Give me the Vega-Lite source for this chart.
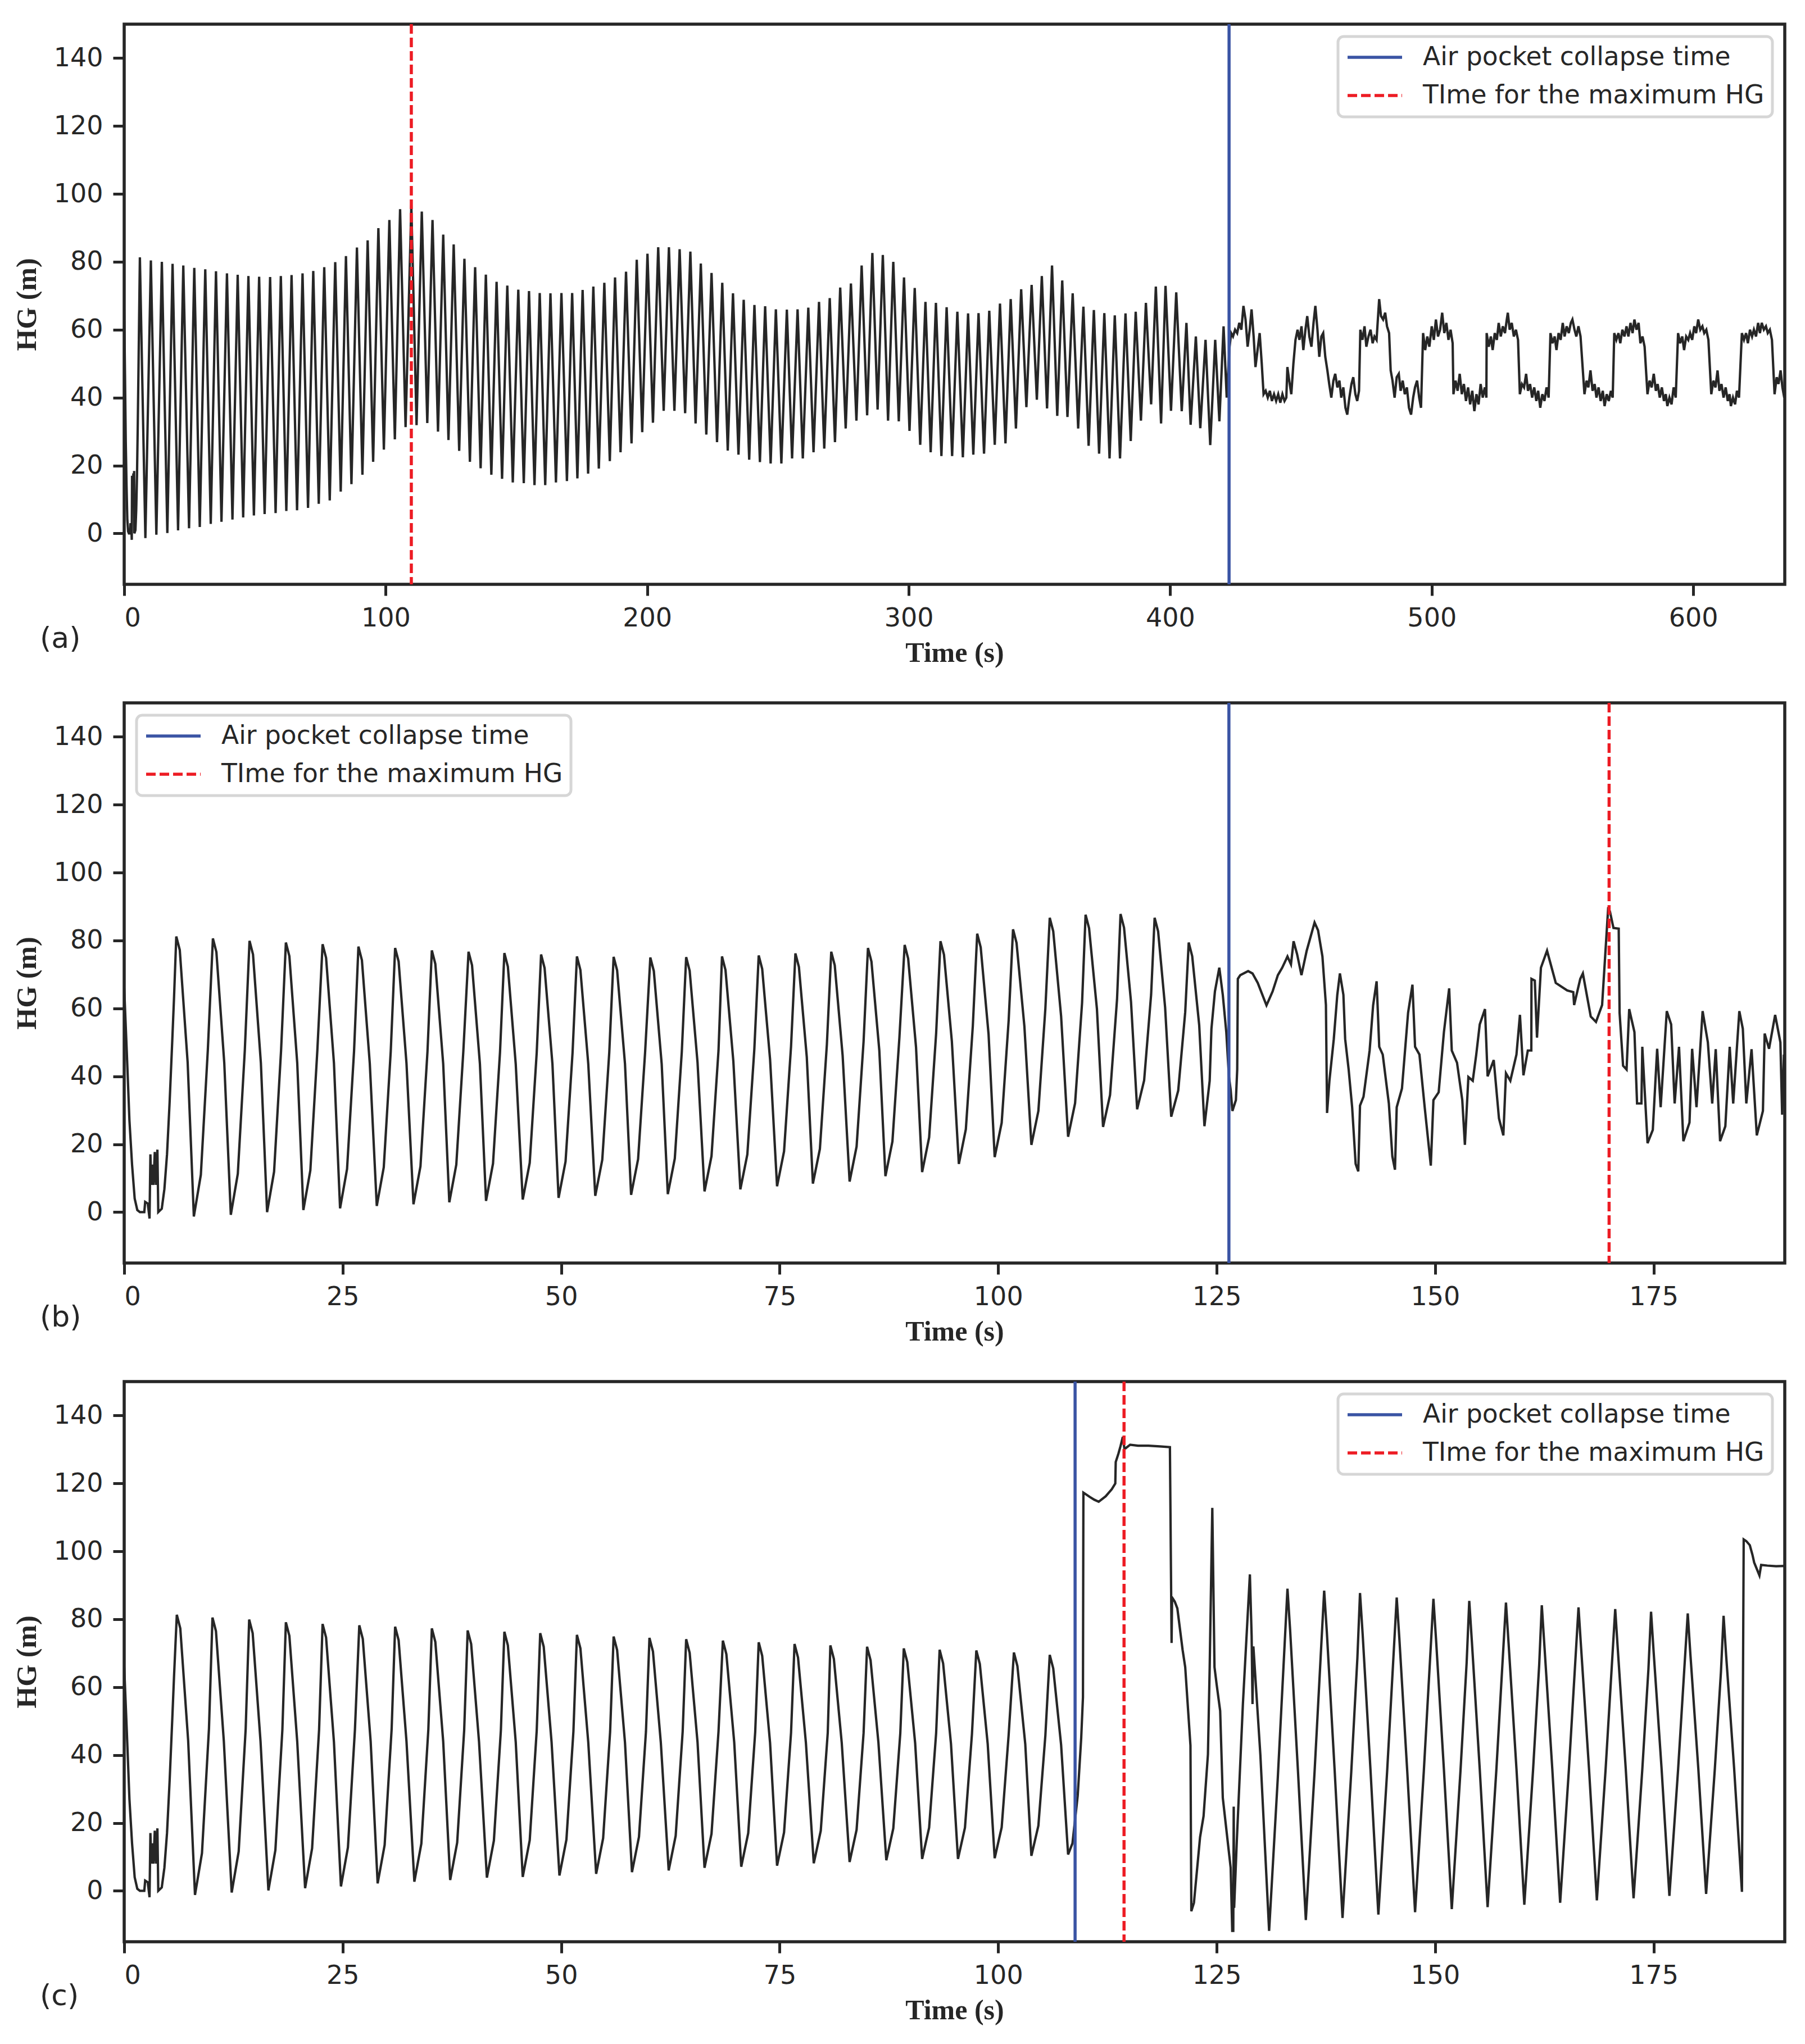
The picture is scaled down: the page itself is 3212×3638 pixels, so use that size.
{
"$schema":"https://vega.github.io/schema/vega-lite/v6.json",
"background":"white",
"padding":{"left":20,"top":37,"right":30,"bottom":20},
"spacing":211,
"bounds":"flush",
"resolve":{"scale":{"color":"independent","strokeDash":"independent","x":"independent","y":"independent"},"legend":{"color":"independent","strokeDash":"independent"}},
"config":{
"view":{"stroke":"#262626","strokeWidth":5.5},
"axis":{"grid":false,"domain":false,"ticks":true,"tickColor":"#262626","tickWidth":5,"tickSize":20,"labelFont":"DejaVu Sans","labelFontSize":46,"labelColor":"#262626","labelPadding":18,"titleFont":"Liberation Serif","titleFontWeight":"bold","titleFontSize":50,"titleColor":"#262626"},
"axisX":{"titlePadding":14},
"axisY":{"titlePadding":22},
"legend":{"labelFont":"DejaVu Sans","labelFontSize":45.5,"labelColor":"#262626","symbolType":"stroke","symbolSize":9409,"symbolStrokeWidth":5.5,"clipHeight":46,"rowPadding":21,"labelOffset":34,"padding":14,"strokeColor":"#d6d6d6","fillColor":"rgba(255,255,255,0.85)","cornerRadius":10,"strokeWidth":5,"labelLimit":1000},
"title":{"font":"DejaVu Sans","fontSize":52,"fontWeight":"normal","color":"#262626"}
},
"datasets":{
"ra":[{"n":"Air pocket collapse time","t":422.5},{"n":"TIme for the maximum HG","t":109.8}],
"rb":[{"n":"Air pocket collapse time","t":126.4},{"n":"TIme for the maximum HG","t":169.9}],
"rc":[{"n":"Air pocket collapse time","t":108.8},{"n":"TIme for the maximum HG","t":114.4}],
"a":[
{"t":0,"h":66},{"t":0.3,"h":47},{"t":0.6,"h":27},{"t":0.9,"h":14},{"t":1.2,"h":4},{"t":1.5,"h":0.6},{"t":1.8,"h":0},{"t":2.3,"h":0},{"t":2.4,"h":3},{"t":2.7,"h":2.5},{"t":2.9,"h":-1.9},{"t":3.0,"h":17},{"t":3.1,"h":8},{"t":3.2,"h":14},{"t":3.35,"h":8},{"t":3.5,"h":17.7},{"t":3.65,"h":8},{"t":3.8,"h":18.4},{"t":3.9,"h":0},{"t":4.3,"h":1},{"t":4.6,"h":6.8},{"t":4.9,"h":17},{"t":5.2,"h":32.5},{"t":5.5,"h":50.5},{"t":5.7,"h":63},{"t":6.0,"h":81.3},
{"t":8.1,"h":-1.4},{"t":10.2,"h":80.4},{"t":12.3,"h":-0.4},{"t":14.4,"h":80.0},{"t":16.5,"h":0.1},{"t":18.5,"h":79.4},{"t":20.6,"h":0.9},{"t":22.6,"h":78.9},{"t":24.8,"h":1.5},{"t":26.8,"h":78.2},{"t":28.9,"h":1.9},{"t":31.0,"h":77.8},{"t":33.1,"h":2.8},{"t":35.1,"h":77.2},{"t":37.2,"h":3.4},{"t":39.3,"h":76.6},{"t":41.4,"h":4.1},{"t":43.4,"h":76.2},{"t":45.5,"h":4.7},{"t":47.5,"h":75.8},{"t":49.6,"h":5.3},{"t":51.6,"h":75.6},{"t":53.7,"h":5.7},{"t":55.8,"h":75.5},{"t":57.9,"h":6.0},{"t":59.9,"h":75.8},{"t":62.0,"h":6.6},{"t":64.0,"h":76.1},{"t":66.1,"h":6.8},{"t":68.2,"h":76.6},{"t":70.3,"h":7.5},{"t":72.3,"h":77.3},{"t":74.4,"h":8.7},{"t":76.5,"h":78.4},{"t":78.6,"h":9.7},{"t":80.7,"h":79.9},{"t":82.8,"h":12.3},{"t":84.8,"h":81.7},{"t":86.9,"h":14.5},{"t":89.0,"h":84.2},{"t":91.1,"h":17.3},{"t":93.1,"h":86.3},{"t":95.2,"h":21.1},{"t":97.2,"h":89.9},{"t":99.3,"h":24.7},{"t":101.4,"h":92.3},{"t":103.5,"h":27.7},{"t":105.5,"h":95.5},{"t":107.6,"h":31.3},{"t":109.8,"h":96.6},{"t":111.8,"h":31.9},{"t":113.8,"h":94.8},{"t":115.9,"h":32.5},{"t":117.9,"h":92.3},{"t":120.0,"h":30.0},{"t":122.0,"h":88.0},{"t":124.0,"h":27.5},{"t":126.0,"h":85.1},{"t":128.1,"h":24.3},{"t":130.1,"h":80.9},{"t":132.2,"h":21.1},{"t":134.2,"h":78.4},{"t":136.3,"h":19.2},{"t":138.3,"h":76.2},{"t":140.4,"h":17.3},{"t":142.4,"h":74.1},{"t":144.5,"h":16.1},{"t":146.5,"h":73.0},{"t":148.6,"h":15.0},{"t":150.7,"h":71.8},{"t":152.8,"h":14.8},{"t":154.8,"h":71.4},{"t":156.9,"h":14.2},{"t":158.9,"h":70.8},{"t":161.0,"h":14.2},{"t":163.0,"h":70.7},{"t":165.1,"h":15.0},{"t":167.2,"h":70.8},{"t":169.3,"h":15.4},{"t":171.3,"h":70.8},{"t":173.3,"h":16.2},{"t":175.3,"h":71.7},{"t":177.4,"h":17.6},{"t":179.4,"h":72.7},{"t":181.5,"h":19.1},{"t":183.6,"h":73.8},{"t":185.7,"h":21.3},{"t":187.7,"h":75.4},{"t":189.8,"h":23.9},{"t":191.9,"h":77.1},{"t":194.0,"h":26.5},{"t":196.0,"h":80.6},{"t":198.1,"h":29.8},{"t":200.1,"h":82.4},{"t":202.2,"h":32.6},{"t":204.2,"h":84.3},{"t":206.3,"h":36.1},{"t":208.3,"h":84.3},{"t":210.4,"h":36.1},{"t":212.4,"h":83.7},{"t":214.5,"h":35.4},{"t":216.5,"h":83.0},{"t":218.5,"h":32.4},{"t":220.5,"h":79.5},{"t":222.6,"h":29.1},{"t":224.6,"h":76.7},{"t":226.7,"h":26.9},{"t":228.7,"h":73.8},{"t":230.8,"h":24.4},{"t":232.8,"h":70.7},{"t":234.9,"h":23.2},{"t":236.9,"h":68.8},{"t":239.0,"h":21.7},{"t":241.0,"h":67.3},{"t":243.1,"h":21.0},{"t":245.1,"h":66.9},{"t":247.2,"h":20.6},{"t":249.2,"h":66.0},{"t":251.3,"h":20.6},{"t":253.4,"h":65.9},{"t":255.4,"h":22.1},{"t":257.5,"h":66.0},{"t":259.5,"h":22.1},{"t":261.6,"h":66.5},{"t":263.6,"h":23.9},{"t":265.7,"h":68.2},{"t":267.7,"h":25.0},{"t":269.8,"h":69.3},{"t":271.8,"h":26.9},{"t":273.8,"h":72.4},{"t":275.9,"h":30.9},{"t":277.9,"h":73.6},{"t":280.0,"h":33.2},{"t":282.0,"h":78.9},{"t":284.1,"h":34.8},{"t":286.1,"h":82.6},{"t":288.1,"h":36.5},{"t":290.1,"h":82.0},{"t":292.1,"h":33.2},{"t":294.1,"h":80.0},{"t":296.2,"h":33.0},{"t":298.2,"h":75.4},{"t":300.3,"h":30.2},{"t":302.3,"h":72.3},{"t":304.4,"h":26.1},{"t":306.4,"h":68.2},{"t":308.4,"h":23.9},{"t":310.4,"h":67.9},{"t":312.5,"h":22.8},{"t":314.5,"h":66.6},{"t":316.6,"h":22.8},{"t":318.6,"h":65.3},{"t":320.7,"h":22.4},{"t":322.7,"h":64.8},{"t":324.7,"h":23.2},{"t":326.7,"h":64.9},{"t":328.8,"h":23.5},{"t":330.8,"h":65.6},{"t":332.9,"h":26.1},{"t":334.9,"h":67.7},{"t":337.0,"h":26.5},{"t":339.0,"h":69.0},{"t":341.0,"h":30.9},{"t":343.0,"h":71.9},{"t":345.0,"h":37.2},{"t":347.0,"h":73.2},{"t":349.0,"h":39.4},{"t":350.9,"h":75.8},{"t":352.9,"h":36.8},{"t":354.8,"h":78.9},{"t":356.8,"h":34.6},{"t":358.7,"h":74.5},{"t":360.7,"h":34.3},{"t":362.7,"h":70.7},{"t":364.8,"h":30.9},{"t":366.8,"h":66.8},{"t":368.8,"h":25.8},{"t":370.8,"h":65.8},{"t":372.8,"h":23.5},{"t":374.8,"h":64.9},{"t":376.8,"h":22.1},{"t":378.8,"h":64.2},{"t":380.8,"h":22.1},{"t":382.9,"h":64.8},{"t":384.9,"h":27.2},{"t":386.8,"h":65.3},{"t":388.8,"h":33.2},{"t":390.7,"h":67.9},{"t":392.7,"h":38.0},{"t":394.5,"h":72.7},{"t":396.5,"h":32.4},{"t":398.2,"h":72.9},{"t":400.3,"h":36.1},{"t":402.3,"h":71},{"t":404.4,"h":36},{"t":406.2,"h":62},{"t":407.8,"h":32},{"t":409.8,"h":58},{"t":411.5,"h":31},{"t":413.5,"h":57},{"t":415.3,"h":26},{"t":417.2,"h":57},{"t":418.8,"h":33},{"t":420.4,"h":61},{"t":421.6,"h":40},
{"t":422.7,"h":55},{"t":423.3,"h":59},{"t":424.0,"h":58},{"t":424.8,"h":60},{"t":425.6,"h":59},{"t":426.4,"h":62},{"t":427.2,"h":60},{"t":428.0,"h":67},{"t":428.8,"h":63},{"t":429.6,"h":55},{"t":430.4,"h":60},{"t":431.1,"h":66},{"t":431.9,"h":58},{"t":432.6,"h":49},{"t":433.4,"h":54},{"t":434.2,"h":59},{"t":435.0,"h":50},{"t":435.7,"h":41},
{"t":436.5,"h":42},{"t":437.3,"h":40},{"t":438.1,"h":42},{"t":438.9,"h":39},{"t":439.7,"h":41},{"t":440.5,"h":39},{"t":441.3,"h":41},{"t":442.1,"h":38.5},{"t":442.9,"h":41},{"t":443.7,"h":39},{"t":444.4,"h":40},
{"t":444.8,"h":49},{"t":445.5,"h":45},{"t":446.3,"h":41},{"t":447.1,"h":50},{"t":447.9,"h":57},{"t":448.7,"h":60},{"t":449.4,"h":57},{"t":450.2,"h":61},{"t":450.9,"h":54},{"t":451.7,"h":60},{"t":452.4,"h":64},{"t":453.2,"h":58},{"t":454.0,"h":55},{"t":454.8,"h":62},{"t":455.5,"h":67},{"t":456.3,"h":60},{"t":457.0,"h":52},{"t":457.8,"h":58},{"t":458.5,"h":59},{"t":459.3,"h":52},{"t":460.1,"h":48},
{"t":460.8,"h":44},{"t":461.6,"h":40},{"t":462.4,"h":45},{"t":463.1,"h":47},{"t":463.9,"h":43},{"t":464.7,"h":45},{"t":465.4,"h":40},{"t":466.2,"h":43},{"t":467.0,"h":37},{"t":467.7,"h":35},{"t":468.5,"h":40},{"t":469.3,"h":44},{"t":470.0,"h":46},{"t":470.8,"h":41},{"t":471.5,"h":39},{"t":472.2,"h":42},
{"t":472.7,"h":60},{"t":473.5,"h":57},{"t":474.3,"h":61},{"t":475.0,"h":55},{"t":475.8,"h":58},{"t":476.6,"h":60},{"t":477.4,"h":56},{"t":478.1,"h":58},{"t":478.9,"h":57},{"t":479.9,"h":69},{"t":480.6,"h":64},{"t":481.4,"h":63},{"t":482.2,"h":65},{"t":482.9,"h":61},{"t":483.7,"h":59},
{"t":484.3,"h":48},{"t":485.0,"h":45},{"t":485.8,"h":40},{"t":486.6,"h":46},{"t":487.4,"h":47},{"t":488.1,"h":42},{"t":488.9,"h":45},{"t":489.7,"h":41},{"t":490.5,"h":43},{"t":491.3,"h":37},{"t":492.1,"h":35},{"t":492.9,"h":40},{"t":493.6,"h":43},{"t":494.4,"h":45},{"t":495.2,"h":40},{"t":495.9,"h":37},
{"t":496.7,"h":59},{"t":497.5,"h":54},{"t":498.3,"h":58},{"t":499.1,"h":55},{"t":500.0,"h":61},{"t":500.8,"h":57},{"t":501.6,"h":63},{"t":502.4,"h":58},{"t":503.2,"h":60},{"t":504.0,"h":65},{"t":504.8,"h":59},{"t":505.6,"h":62},{"t":506.4,"h":57},{"t":507.2,"h":60},{"t":508.0,"h":56},
{"t":508.3,"h":41},{"t":509.1,"h":45},{"t":509.9,"h":42},{"t":510.7,"h":47},{"t":511.5,"h":41},{"t":512.3,"h":44},{"t":513.1,"h":39},{"t":513.9,"h":43},{"t":514.7,"h":38},{"t":515.5,"h":42},{"t":516.3,"h":36},{"t":517.1,"h":41},{"t":517.9,"h":38},{"t":518.7,"h":44},{"t":519.5,"h":40},{"t":520.3,"h":43},{"t":520.9,"h":40},
{"t":521.0,"h":59},{"t":521.8,"h":55},{"t":522.6,"h":58},{"t":523.3,"h":54},{"t":524.1,"h":59},{"t":524.9,"h":57},{"t":525.6,"h":62},{"t":526.4,"h":58},{"t":527.2,"h":61},{"t":528.0,"h":59},{"t":528.7,"h":63},{"t":529.1,"h":65},{"t":529.8,"h":60},{"t":530.6,"h":62},{"t":531.4,"h":58},{"t":532.2,"h":60},{"t":533.0,"h":57},
{"t":533.7,"h":41},{"t":534.5,"h":44},{"t":535.3,"h":43},{"t":536.1,"h":47},{"t":536.8,"h":42},{"t":537.6,"h":44},{"t":538.4,"h":40},{"t":539.2,"h":43},{"t":540.0,"h":39},{"t":540.7,"h":42},{"t":541.5,"h":37},{"t":542.3,"h":41},{"t":543.1,"h":39},{"t":543.9,"h":43},{"t":544.7,"h":40},
{"t":545.4,"h":59},{"t":546.2,"h":56},{"t":547.0,"h":58},{"t":547.7,"h":54},{"t":548.5,"h":59},{"t":549.3,"h":57},{"t":550.1,"h":62},{"t":550.8,"h":58},{"t":551.6,"h":61},{"t":552.4,"h":59},{"t":553.2,"h":62},{"t":553.8,"h":63},{"t":554.6,"h":60},{"t":555.3,"h":58},{"t":556.1,"h":61},{"t":556.9,"h":58},
{"t":558.4,"h":41},{"t":559.2,"h":45},{"t":559.9,"h":43},{"t":560.7,"h":48},{"t":561.5,"h":42},{"t":562.3,"h":44},{"t":563.0,"h":40},{"t":563.8,"h":43},{"t":564.6,"h":39},{"t":565.4,"h":42},{"t":566.1,"h":37.5},{"t":566.9,"h":41},{"t":567.7,"h":39},{"t":568.5,"h":42},{"t":569.2,"h":40},
{"t":569.8,"h":59},{"t":570.6,"h":57},{"t":571.4,"h":59},{"t":572.1,"h":56},{"t":572.9,"h":60},{"t":573.7,"h":58},{"t":574.5,"h":61},{"t":575.2,"h":58},{"t":576.0,"h":62},{"t":576.8,"h":59},{"t":577.5,"h":63},{"t":578.3,"h":60},{"t":579.1,"h":62},{"t":579.8,"h":56},{"t":580.6,"h":58},{"t":581.4,"h":55},
{"t":582.5,"h":41},{"t":583.3,"h":45},{"t":584.1,"h":43},{"t":584.9,"h":47},{"t":585.7,"h":42},{"t":586.4,"h":44},{"t":587.2,"h":40},{"t":588.0,"h":43},{"t":588.8,"h":39},{"t":589.5,"h":41},{"t":590.1,"h":37.5},{"t":590.9,"h":40},{"t":591.7,"h":38},{"t":592.5,"h":43},{"t":593.3,"h":40},
{"t":594.2,"h":59},{"t":595.0,"h":56},{"t":595.8,"h":58},{"t":596.5,"h":54},{"t":597.3,"h":58},{"t":598.1,"h":57},{"t":598.8,"h":59},{"t":599.6,"h":57},{"t":600.4,"h":61},{"t":601.1,"h":59},{"t":601.9,"h":63},{"t":602.7,"h":60},{"t":603.5,"h":61},{"t":604.2,"h":59},{"t":605.0,"h":60},{"t":605.8,"h":57},
{"t":606.9,"h":41},{"t":607.7,"h":45},{"t":608.5,"h":43},{"t":609.3,"h":48},{"t":610.0,"h":42},{"t":610.8,"h":44},{"t":611.6,"h":40},{"t":612.4,"h":43},{"t":613.2,"h":39},{"t":613.9,"h":41},{"t":614.4,"h":37.5},{"t":615.2,"h":40},{"t":616.0,"h":38},{"t":616.7,"h":42},{"t":617.5,"h":40},
{"t":618.6,"h":59},{"t":619.4,"h":57},{"t":620.2,"h":59},{"t":620.9,"h":56},{"t":621.7,"h":60},{"t":622.5,"h":58},{"t":623.2,"h":60},{"t":624.0,"h":58},{"t":624.8,"h":62},{"t":625.5,"h":59},{"t":626.2,"h":62},{"t":627.0,"h":60},{"t":627.8,"h":61},{"t":628.5,"h":59},{"t":629.3,"h":60},{"t":630.1,"h":57},
{"t":631.1,"h":41},{"t":631.9,"h":46},{"t":632.6,"h":44},{"t":633.4,"h":48},{"t":634.1,"h":43},{"t":634.8,"h":40},{"t":635.2,"h":41}
],
"b":[
{"t":0,"h":66},{"t":0.3,"h":47},{"t":0.6,"h":27},{"t":0.9,"h":14},{"t":1.2,"h":4},{"t":1.5,"h":0.6},{"t":1.8,"h":0},{"t":2.3,"h":0},{"t":2.4,"h":3},{"t":2.7,"h":2.5},{"t":2.9,"h":-1.9},{"t":3.0,"h":17},{"t":3.1,"h":8},{"t":3.2,"h":14},{"t":3.35,"h":8},{"t":3.5,"h":17.7},{"t":3.65,"h":8},{"t":3.8,"h":18.4},{"t":3.9,"h":0},{"t":4.3,"h":1},{"t":4.6,"h":6.8},{"t":4.9,"h":17},{"t":5.2,"h":32.5},{"t":5.5,"h":50.5},{"t":5.7,"h":63},
{"t":5.96,"h":81.2},{"t":6.36,"h":77.2},{"t":7.26,"h":44.1},{"t":7.97,"h":-1.3},{"t":8.77,"h":11.0},{"t":9.57,"h":47.8},
{"t":10.15,"h":80.6},{"t":10.55,"h":76.6},{"t":11.45,"h":44.0},{"t":12.2,"h":-0.8},{"t":13.0,"h":11.3},{"t":13.8,"h":47.6},
{"t":14.34,"h":79.9},{"t":14.74,"h":75.9},{"t":15.64,"h":43.9},{"t":16.35,"h":0},{"t":17.15,"h":11.9},{"t":17.95,"h":47.6},
{"t":18.5,"h":79.4},{"t":18.9,"h":75.4},{"t":19.8,"h":43.9},{"t":20.5,"h":0.6},{"t":21.3,"h":12.3},{"t":22.1,"h":47.6},
{"t":22.7,"h":78.9},{"t":23.1,"h":74.9},{"t":24.0,"h":43.9},{"t":24.7,"h":1.1},{"t":25.5,"h":12.7},{"t":26.3,"h":47.4},
{"t":26.8,"h":78.2},{"t":27.2,"h":74.2},{"t":28.1,"h":43.8},{"t":28.9,"h":1.8},{"t":29.7,"h":13.2},{"t":30.5,"h":47.4},
{"t":31.0,"h":77.8},{"t":31.4,"h":73.8},{"t":32.3,"h":43.8},{"t":33.1,"h":2.3},{"t":33.9,"h":13.5},{"t":34.7,"h":47.2},
{"t":35.2,"h":77.1},{"t":35.6,"h":73.1},{"t":36.5,"h":43.7},{"t":37.2,"h":2.9},{"t":38.0,"h":14.0},{"t":38.8,"h":47.2},
{"t":39.4,"h":76.7},{"t":39.8,"h":72.7},{"t":40.7,"h":43.7},{"t":41.4,"h":3.3},{"t":42.2,"h":14.3},{"t":43.0,"h":47.1},
{"t":43.5,"h":76.3},{"t":43.9,"h":72.3},{"t":44.8,"h":43.6},{"t":45.6,"h":3.7},{"t":46.4,"h":14.5},{"t":47.2,"h":47.0},
{"t":47.7,"h":75.9},{"t":48.1,"h":71.9},{"t":49.0,"h":43.6},{"t":49.7,"h":4.2},{"t":50.5,"h":14.9},{"t":51.3,"h":46.9},
{"t":51.8,"h":75.3},{"t":52.2,"h":71.3},{"t":53.1,"h":43.6},{"t":53.9,"h":4.8},{"t":54.7,"h":15.4},{"t":55.5,"h":47.0},
{"t":56.0,"h":75.2},{"t":56.4,"h":71.2},{"t":57.3,"h":43.7},{"t":58.0,"h":5.1},{"t":58.8,"h":15.6},{"t":59.6,"h":47.0},
{"t":60.2,"h":75.0},{"t":60.6,"h":71.0},{"t":61.5,"h":43.6},{"t":62.2,"h":5.3},{"t":63.0,"h":15.8},{"t":63.8,"h":47.2},
{"t":64.3,"h":75.1},{"t":64.7,"h":71.1},{"t":65.6,"h":44.1},{"t":66.4,"h":6.1},{"t":67.2,"h":16.5},{"t":68.0,"h":47.6},
{"t":68.4,"h":75.3},{"t":68.8,"h":71.3},{"t":69.7,"h":44.4},{"t":70.5,"h":6.7},{"t":71.3,"h":17.0},{"t":72.1,"h":48.0},
{"t":72.6,"h":75.6},{"t":73.0,"h":71.6},{"t":73.9,"h":45.0},{"t":74.7,"h":7.6},{"t":75.5,"h":17.9},{"t":76.3,"h":48.8},
{"t":76.8,"h":76.2},{"t":77.2,"h":72.2},{"t":78.1,"h":45.7},{"t":78.8,"h":8.4},{"t":79.6,"h":18.6},{"t":80.4,"h":49.4},
{"t":80.9,"h":76.7},{"t":81.3,"h":72.7},{"t":82.2,"h":46.2},{"t":83.0,"h":9.0},{"t":83.8,"h":19.3},{"t":84.6,"h":50.3},
{"t":85.1,"h":77.8},{"t":85.5,"h":73.8},{"t":86.4,"h":47.6},{"t":87.1,"h":10.6},{"t":87.9,"h":20.8},{"t":88.7,"h":51.5},
{"t":89.3,"h":78.7},{"t":89.7,"h":74.7},{"t":90.6,"h":48.6},{"t":91.3,"h":11.8},{"t":92.1,"h":22.0},{"t":92.9,"h":52.6},
{"t":93.4,"h":79.8},{"t":93.8,"h":75.8},{"t":94.7,"h":50.3},{"t":95.5,"h":14.2},{"t":96.3,"h":24.4},{"t":97.1,"h":54.9},
{"t":97.6,"h":82.0},{"t":98.0,"h":78.0},{"t":98.9,"h":52.4},{"t":99.6,"h":16.2},{"t":100.4,"h":26.3},{"t":101.2,"h":56.5},
{"t":101.7,"h":83.3},{"t":102.1,"h":79.3},{"t":103.0,"h":54.7},{"t":103.8,"h":19.8},{"t":104.6,"h":29.8},{"t":105.4,"h":60.0},
{"t":105.9,"h":86.7},{"t":106.3,"h":82.7},{"t":107.2,"h":57.7},{"t":108.0,"h":22.2},{"t":108.8,"h":32.1},{"t":109.6,"h":61.7},
{"t":110.0,"h":87.6},{"t":110.4,"h":83.6},{"t":111.3,"h":59.8},{"t":112.0,"h":25.1},{"t":112.8,"h":34.5},{"t":113.6,"h":62.7},
{"t":114.0,"h":87.8},{"t":114.4,"h":83.8},{"t":115.2,"h":61.9},{"t":115.9,"h":30.3},{"t":116.7,"h":38.8},{"t":117.5,"h":64.1},
{"t":117.9,"h":86.7},{"t":118.3,"h":82.7},{"t":119.1,"h":60.3},{"t":119.8,"h":28.1},{"t":120.6,"h":35.8},{"t":121.4,"h":58.9},
{"t":121.8,"h":79.4},{"t":122.2,"h":75.4},{"t":123.0,"h":55.1},{"t":123.6,"h":25.3},{"t":124.2,"h":38.7},{"t":124.4,"h":54},{"t":124.8,"h":65},{"t":125.3,"h":72},{"t":125.7,"h":64},{"t":126.1,"h":53},{"t":126.4,"h":40},{"t":126.6,"h":36},{"t":126.8,"h":29.8},{"t":127.2,"h":33},{"t":127.35,"h":42},
{"t":127.42,"h":68.7},{"t":127.7,"h":69.8},{"t":128.6,"h":71},{"t":129.1,"h":70.3},{"t":129.7,"h":67.5},{"t":130.7,"h":60.9},{"t":131.4,"h":65},{"t":132.0,"h":69.8},{"t":132.5,"h":72},{"t":133.1,"h":75.3},{"t":133.5,"h":73},{"t":133.8,"h":79.8},{"t":134.2,"h":76},{"t":134.7,"h":69.8},{"t":135.3,"h":77},{"t":136.2,"h":85.3},{"t":136.6,"h":83},{"t":137.1,"h":75.3},{"t":137.5,"h":61},{"t":137.63,"h":29.2},{"t":137.9,"h":38.7},{"t":138.4,"h":51},{"t":138.8,"h":64},{"t":139.1,"h":70.3},{"t":139.5,"h":64},{"t":139.7,"h":51},{"t":140.1,"h":42},{"t":140.5,"h":30.9},{"t":140.9,"h":14.2},{"t":141.2,"h":12},{"t":141.4,"h":31.4},{"t":141.8,"h":34},{"t":142.5,"h":47.6},{"t":142.9,"h":60.9},{"t":143.3,"h":68},{"t":143.6,"h":48.7},{"t":144.0,"h":46.4},{"t":144.7,"h":32},{"t":145.1,"h":16.4},{"t":145.4,"h":12.5},{"t":145.6,"h":30.9},{"t":146.2,"h":36.4},{"t":146.9,"h":58.7},{"t":147.4,"h":67},{"t":147.7,"h":48.7},{"t":148.2,"h":46.4},{"t":148.8,"h":30.9},{"t":149.5,"h":13.7},{"t":149.8,"h":33},{"t":150.4,"h":35.3},{"t":151.0,"h":53},{"t":151.6,"h":65.9},{"t":151.9,"h":47.6},{"t":152.5,"h":44},{"t":153.1,"h":33},{"t":153.4,"h":19.8},{"t":153.8,"h":39.8},{"t":154.3,"h":38.7},{"t":154.7,"h":46.4},{"t":155.1,"h":55.3},{"t":155.7,"h":59.8},{"t":156.0,"h":40},{"t":156.7,"h":44.8},{"t":157.3,"h":27.6},{"t":157.8,"h":22.6},{"t":158.1,"h":40.9},{"t":158.6,"h":38.7},{"t":159.3,"h":46.4},{"t":159.7,"h":58.1},{"t":160.1,"h":40.3},{"t":160.6,"h":47.6},{"t":161.0,"h":47.6},{"t":161.02,"h":68.7},{"t":161.4,"h":68.2},{"t":161.65,"h":51.4},{"t":162.1,"h":72},{"t":162.8,"h":77},{"t":163.8,"h":67.5},{"t":165.1,"h":65.3},{"t":165.8,"h":64.8},{"t":165.9,"h":61},{"t":166.6,"h":68.7},{"t":166.9,"h":70.3},{"t":167.8,"h":57.6},{"t":168.4,"h":56},{"t":169.1,"h":61},{"t":169.8,"h":89.8},{"t":170.0,"h":88.5},{"t":170.4,"h":83.7},{"t":171.0,"h":83.5},{"t":171.1,"h":58.7},{"t":171.5,"h":43.1},{"t":171.9,"h":42},{"t":172.2,"h":59.8},{"t":172.8,"h":53},{"t":173.1,"h":32},{"t":173.6,"h":32},{"t":173.7,"h":48.7},{"t":174.3,"h":20.3},{"t":174.9,"h":24.2},{"t":175.4,"h":48.1},{"t":175.8,"h":30.9},{"t":176.5,"h":59.2},{"t":177.0,"h":55.3},{"t":177.4,"h":32},{"t":177.9,"h":48.7},{"t":178.4,"h":20.9},{"t":179.1,"h":26.4},{"t":179.4,"h":48.1},{"t":179.9,"h":30.9},{"t":180.6,"h":59.2},{"t":181.2,"h":50},{"t":181.7,"h":32},{"t":182.1,"h":48},{"t":182.6,"h":20.9},{"t":183.2,"h":25.3},{"t":183.7,"h":48.7},{"t":184.1,"h":32},{"t":184.8,"h":59.2},{"t":185.2,"h":54},{"t":185.6,"h":32},{"t":186.2,"h":48},{"t":186.8,"h":22.6},{"t":187.5,"h":29.8},{"t":187.7,"h":52.6},{"t":188.2,"h":48.1},{"t":188.9,"h":58.1},{"t":189.5,"h":50},{"t":189.7,"h":28.7},{"t":189.9,"h":46.4},{"t":190,"h":45}
],
"c":[
{"t":0,"h":66},{"t":0.3,"h":47},{"t":0.6,"h":27},{"t":0.9,"h":14},{"t":1.2,"h":4},{"t":1.5,"h":0.6},{"t":1.8,"h":0},{"t":2.3,"h":0},{"t":2.4,"h":3},{"t":2.7,"h":2.5},{"t":2.9,"h":-1.9},{"t":3.0,"h":17},{"t":3.1,"h":8},{"t":3.2,"h":14},{"t":3.35,"h":8},{"t":3.5,"h":17.7},{"t":3.65,"h":8},{"t":3.8,"h":18.4},{"t":3.9,"h":0},{"t":4.3,"h":1},{"t":4.6,"h":6.8},{"t":4.9,"h":17},{"t":5.2,"h":32.5},{"t":5.5,"h":50.5},{"t":5.7,"h":63},
{"t":6.02,"h":81.3},{"t":6.42,"h":77.3},{"t":7.32,"h":44.2},{"t":8.1,"h":-1.2},{"t":8.9,"h":11.1},{"t":9.7,"h":47.8},
{"t":10.1,"h":80.5},{"t":10.5,"h":76.5},{"t":11.4,"h":44.1},{"t":12.3,"h":-0.5},{"t":13.1,"h":11.6},{"t":13.9,"h":47.7},
{"t":14.3,"h":79.9},{"t":14.7,"h":75.9},{"t":15.6,"h":44.0},{"t":16.5,"h":0.1},{"t":17.3,"h":12.0},{"t":18.1,"h":47.5},
{"t":18.5,"h":79.1},{"t":18.9,"h":75.1},{"t":19.8,"h":43.9},{"t":20.7,"h":0.8},{"t":21.5,"h":12.5},{"t":22.3,"h":47.5},
{"t":22.7,"h":78.6},{"t":23.1,"h":74.6},{"t":24.0,"h":43.8},{"t":24.8,"h":1.3},{"t":25.6,"h":12.8},{"t":26.4,"h":47.4},
{"t":26.9,"h":78.2},{"t":27.3,"h":74.2},{"t":28.2,"h":44.0},{"t":29.0,"h":2.2},{"t":29.8,"h":13.5},{"t":30.6,"h":47.6},
{"t":31.0,"h":77.8},{"t":31.4,"h":73.8},{"t":32.3,"h":44.0},{"t":33.2,"h":2.7},{"t":34.0,"h":13.9},{"t":34.8,"h":47.5},
{"t":35.2,"h":77.3},{"t":35.6,"h":73.3},{"t":36.5,"h":44.0},{"t":37.3,"h":3.2},{"t":38.1,"h":14.2},{"t":38.9,"h":47.3},
{"t":39.3,"h":76.7},{"t":39.7,"h":72.7},{"t":40.6,"h":43.9},{"t":41.5,"h":3.9},{"t":42.3,"h":14.8},{"t":43.1,"h":47.3},
{"t":43.5,"h":76.3},{"t":43.9,"h":72.3},{"t":44.8,"h":43.8},{"t":45.6,"h":4.1},{"t":46.4,"h":14.9},{"t":47.2,"h":47.2},
{"t":47.6,"h":75.9},{"t":48.0,"h":71.9},{"t":48.9,"h":43.8},{"t":49.8,"h":4.5},{"t":50.6,"h":15.1},{"t":51.4,"h":47.0},
{"t":51.8,"h":75.4},{"t":52.2,"h":71.4},{"t":53.1,"h":43.7},{"t":54.0,"h":5.0},{"t":54.8,"h":15.5},{"t":55.6,"h":46.9},
{"t":56.0,"h":74.9},{"t":56.4,"h":70.9},{"t":57.3,"h":43.7},{"t":58.1,"h":5.5},{"t":58.9,"h":15.9},{"t":59.7,"h":46.9},
{"t":60.1,"h":74.5},{"t":60.5,"h":70.5},{"t":61.4,"h":43.7},{"t":62.3,"h":6.0},{"t":63.1,"h":16.2},{"t":63.9,"h":46.9},
{"t":64.3,"h":74.1},{"t":64.7,"h":70.1},{"t":65.6,"h":43.8},{"t":66.4,"h":6.8},{"t":67.2,"h":16.8},{"t":68.0,"h":46.9},
{"t":68.5,"h":73.7},{"t":68.9,"h":69.7},{"t":69.8,"h":43.7},{"t":70.6,"h":7.1},{"t":71.4,"h":17.0},{"t":72.2,"h":46.8},
{"t":72.6,"h":73.2},{"t":73.0,"h":69.2},{"t":73.9,"h":43.6},{"t":74.7,"h":7.4},{"t":75.5,"h":17.2},{"t":76.3,"h":46.6},
{"t":76.7,"h":72.7},{"t":77.1,"h":68.7},{"t":78.0,"h":43.6},{"t":78.9,"h":8.1},{"t":79.7,"h":17.7},{"t":80.5,"h":46.6},
{"t":80.8,"h":72.3},{"t":81.2,"h":68.3},{"t":82.1,"h":43.6},{"t":83.0,"h":8.5},{"t":83.8,"h":18.0},{"t":84.6,"h":46.5},
{"t":85.0,"h":71.9},{"t":85.4,"h":67.9},{"t":86.3,"h":43.6},{"t":87.2,"h":9.0},{"t":88.0,"h":18.4},{"t":88.8,"h":46.4},
{"t":89.2,"h":71.4},{"t":89.6,"h":67.4},{"t":90.5,"h":43.5},{"t":91.3,"h":9.4},{"t":92.1,"h":18.6},{"t":92.9,"h":46.4},
{"t":93.3,"h":71.0},{"t":93.7,"h":67.0},{"t":94.6,"h":43.3},{"t":95.4,"h":9.4},{"t":96.2,"h":18.6},{"t":97.0,"h":46.2},
{"t":97.5,"h":70.8},{"t":97.9,"h":66.8},{"t":98.8,"h":43.3},{"t":99.6,"h":9.6},{"t":100.4,"h":18.7},{"t":101.2,"h":46.0},
{"t":101.8,"h":70.2},{"t":102.2,"h":66.2},{"t":103.1,"h":43.2},{"t":103.8,"h":10.3},{"t":104.6,"h":19.2},{"t":105.4,"h":45.8},
{"t":105.9,"h":69.5},{"t":106.3,"h":65.5},{"t":107.2,"h":43.0},{"t":108.0,"h":10.7},{"t":108.5,"h":14},{"t":109.1,"h":28},{"t":109.5,"h":45},{"t":109.7,"h":57},{"t":109.75,"h":117.3},
{"t":110.5,"h":116},{"t":111.0,"h":115.2},{"t":111.5,"h":114.6},{"t":112.3,"h":116.2},{"t":113.0,"h":118.3},{"t":113.4,"h":120},{"t":113.45,"h":126.3},{"t":113.76,"h":128.8},{"t":114.0,"h":131},{"t":114.26,"h":133.7},{"t":114.45,"h":130.1},{"t":115.1,"h":131.4},{"t":116,"h":131.1},{"t":117.2,"h":131.1},{"t":118.5,"h":130.9},{"t":119.65,"h":130.7},{"t":119.84,"h":73},{"t":119.9,"h":86.4},{"t":120.2,"h":85.2},{"t":120.5,"h":83.2},{"t":121.1,"h":71},{"t":121.4,"h":65.9},{"t":122.0,"h":42.8},{"t":122.1,"h":-6},{"t":122.4,"h":-3.5},{"t":123.1,"h":15.8},{"t":123.5,"h":22},{"t":124.0,"h":40.2},{"t":124.2,"h":65.9},{"t":124.5,"h":112.8},{"t":124.75,"h":65.9},{"t":125.0,"h":60.7},{"t":125.4,"h":53},{"t":125.7,"h":27.4},{"t":126.6,"h":6.8},{"t":126.78,"h":-11.8},{"t":126.9,"h":-11.8},{"t":126.95,"h":24.8},{"t":127.0,"h":-5},{"t":127.3,"h":14.5},{"t":128.0,"h":55},{"t":128.8,"h":93.2},{"t":129.0,"h":75},{"t":129.1,"h":55},{"t":129.2,"h":72},{"t":130.0,"h":40},{"t":131.0,"h":-11.8},
{"t":132.0,"h":33.6},{"t":132.7,"h":68.8},{"t":133.1,"h":89.0},{"t":133.4,"h":77},{"t":134.3,"h":35.3},{"t":135.2,"h":-8.6},
{"t":136.2,"h":35.0},{"t":136.9,"h":69.0},{"t":137.3,"h":88.4},{"t":137.6,"h":76.4},{"t":138.5,"h":35.4},{"t":139.4,"h":-8},
{"t":140.4,"h":35.1},{"t":141.1,"h":68.6},{"t":141.4,"h":87.7},{"t":141.7,"h":75.7},{"t":142.6,"h":35.6},{"t":143.5,"h":-7},
{"t":144.5,"h":35.0},{"t":145.2,"h":67.7},{"t":145.6,"h":86.4},{"t":145.9,"h":74.4},{"t":146.8,"h":35.4},{"t":147.7,"h":-6.3},
{"t":148.7,"h":35.2},{"t":149.4,"h":67.5},{"t":149.8,"h":86.0},{"t":150.1,"h":74},{"t":151.0,"h":35.7},{"t":151.9,"h":-5.4},
{"t":152.9,"h":35.5},{"t":153.6,"h":67.2},{"t":153.9,"h":85.4},{"t":154.2,"h":73.4},{"t":155.1,"h":35.8},{"t":156.0,"h":-4.8},
{"t":157.0,"h":35.6},{"t":157.7,"h":67.0},{"t":158.1,"h":84.9},{"t":158.4,"h":72.9},{"t":159.3,"h":36.0},{"t":160.2,"h":-4.1},
{"t":161.2,"h":35.6},{"t":161.9,"h":66.5},{"t":162.2,"h":84.1},{"t":162.5,"h":72.1},{"t":163.4,"h":35.9},{"t":164.3,"h":-3.5},
{"t":165.3,"h":35.7},{"t":166.0,"h":66.1},{"t":166.4,"h":83.5},{"t":166.7,"h":71.5},{"t":167.6,"h":36.0},{"t":168.5,"h":-2.8},
{"t":169.5,"h":35.8},{"t":170.2,"h":65.8},{"t":170.6,"h":83.0},{"t":170.9,"h":71},{"t":171.8,"h":36.1},{"t":172.7,"h":-2.2},
{"t":173.7,"h":35.8},{"t":174.4,"h":65.3},{"t":174.7,"h":82.2},{"t":175.0,"h":70.2},{"t":175.9,"h":36.2},{"t":176.8,"h":-1.5},
{"t":177.8,"h":35.9},{"t":178.5,"h":65.1},{"t":178.9,"h":81.7},{"t":179.2,"h":69.7},{"t":180.1,"h":36.3},{"t":181.0,"h":-0.9},
{"t":182.0,"h":36.0},{"t":182.7,"h":64.6},{"t":183.0,"h":81.0},{"t":183.3,"h":69},{"t":184.2,"h":36.3},{"t":185.1,"h":-0.3},
{"t":185.3,"h":103.5},{"t":185.6,"h":103},{"t":186.0,"h":101.8},{"t":186.3,"h":99},{"t":186.5,"h":96.7},{"t":187.1,"h":92.9},{"t":187.3,"h":96},{"t":188,"h":95.8},{"t":189,"h":95.6},{"t":190,"h":95.7}
]
},
"vconcat":[
{"width":2955,"height":997,
"title":{"text":"(a)","orient":"bottom","anchor":"start","frame":"group","dx":-150,"offset":-75},
"layer":[
{"data":{"name":"a"},"mark":{"type":"line","color":"#262626","strokeWidth":4.2,"clip":true},
"encoding":{"x":{"field":"t","type":"quantitative","scale":{"domain":[0,635],"nice":false,"zero":false},"axis":{"values":[0,100,200,300,400,500,600],"title":"Time (s)"}},
"y":{"field":"h","type":"quantitative","scale":{"domain":[-15,150],"nice":false,"zero":false},"axis":{"values":[0,20,40,60,80,100,120,140],"title":"HG (m)"}}}},
{"data":{"name":"ra"},"mark":{"type":"rule","strokeWidth":5.5},
"encoding":{"x":{"field":"t","type":"quantitative","scale":{"domain":[0,635],"nice":false,"zero":false}},
"color":{"field":"n","type":"nominal","scale":{"domain":["Air pocket collapse time","TIme for the maximum HG"],"range":["#3a54a4","#ed1c24"]},"legend":{"title":null,"orient":"top-right","offset":22}},
"strokeDash":{"field":"n","type":"nominal","scale":{"domain":["Air pocket collapse time","TIme for the maximum HG"],"range":[[1,0],[17,7]]},"legend":{"title":null,"orient":"top-right","offset":22}}}}
]},
{"width":2955,"height":997,
"title":{"text":"(b)","orient":"bottom","anchor":"start","frame":"group","dx":-150,"offset":-75},
"layer":[
{"data":{"name":"b"},"mark":{"type":"line","color":"#262626","strokeWidth":4.2,"clip":true},
"encoding":{"x":{"field":"t","type":"quantitative","scale":{"domain":[0,190],"nice":false,"zero":false},"axis":{"values":[0,25,50,75,100,125,150,175],"title":"Time (s)"}},
"y":{"field":"h","type":"quantitative","scale":{"domain":[-15,150],"nice":false,"zero":false},"axis":{"values":[0,20,40,60,80,100,120,140],"title":"HG (m)"}}}},
{"data":{"name":"rb"},"mark":{"type":"rule","strokeWidth":5.5},
"encoding":{"x":{"field":"t","type":"quantitative","scale":{"domain":[0,190],"nice":false,"zero":false}},
"color":{"field":"n","type":"nominal","scale":{"domain":["Air pocket collapse time","TIme for the maximum HG"],"range":["#3a54a4","#ed1c24"]},"legend":{"title":null,"orient":"top-left","offset":22}},
"strokeDash":{"field":"n","type":"nominal","scale":{"domain":["Air pocket collapse time","TIme for the maximum HG"],"range":[[1,0],[17,7]]},"legend":{"title":null,"orient":"top-left","offset":22}}}}
]},
{"width":2955,"height":997,
"title":{"text":"(c)","orient":"bottom","anchor":"start","frame":"group","dx":-150,"offset":-75},
"layer":[
{"data":{"name":"c"},"mark":{"type":"line","color":"#262626","strokeWidth":4.2,"clip":true},
"encoding":{"x":{"field":"t","type":"quantitative","scale":{"domain":[0,190],"nice":false,"zero":false},"axis":{"values":[0,25,50,75,100,125,150,175],"title":"Time (s)"}},
"y":{"field":"h","type":"quantitative","scale":{"domain":[-15,150],"nice":false,"zero":false},"axis":{"values":[0,20,40,60,80,100,120,140],"title":"HG (m)"}}}},
{"data":{"name":"rc"},"mark":{"type":"rule","strokeWidth":5.5},
"encoding":{"x":{"field":"t","type":"quantitative","scale":{"domain":[0,190],"nice":false,"zero":false}},
"color":{"field":"n","type":"nominal","scale":{"domain":["Air pocket collapse time","TIme for the maximum HG"],"range":["#3a54a4","#ed1c24"]},"legend":{"title":null,"orient":"top-right","offset":22}},
"strokeDash":{"field":"n","type":"nominal","scale":{"domain":["Air pocket collapse time","TIme for the maximum HG"],"range":[[1,0],[17,7]]},"legend":{"title":null,"orient":"top-right","offset":22}}}}
]}
]
}
